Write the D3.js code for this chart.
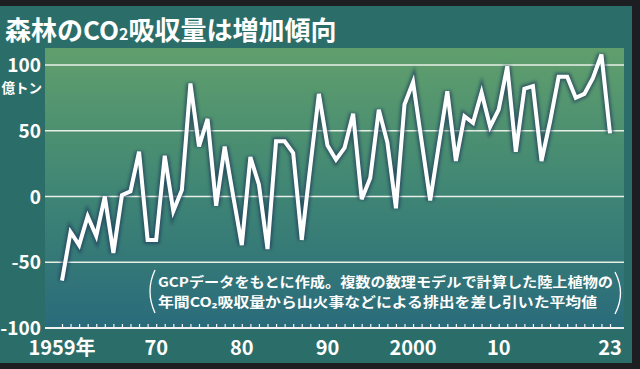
<!DOCTYPE html>
<html>
<head>
<meta charset="utf-8">
<script src="https://cdn.jsdelivr.net/npm/d3@7"></script>
<style>
  html, body { margin: 0; padding: 0; background: #1c1e21; }
  svg { display: block; }
  text { font-family: "Noto Sans CJK JP", "Noto Sans", sans-serif; font-weight: 700; fill: #fff; }
</style>
</head>
<body>
<div id="chart"></div>
<script>
// net land CO2 uptake, 100 million tonnes (億トン) per year
const years = d3.range(1959, 2024);
const uptake = [
    -64, -27, -37, -15, -30, 0, -43, 1, 4, 34,
    -33, -33, 31, -11, 5, 86, 38, 59, -7, 38,
    0, -37, 30, 9, -40, 42, 42, 33, -33, 23,
    78, 39, 28, 37, 63, -2, 14, 66, 41, -9,
    70, 87, 42, -3, 39, 80, 27, 61, 56, 79,
    53, 66, 99, 34, 82, 84, 27, 57, 91, 91,
    75, 78, 90, 108, 48
];
const yTicks = [100, 50, 0, -50, -100];
const xLabels = [1959, 1970, 1980, 1990, 2000, 2010, 2023];
const noteLines = [
    "GCPデータをもとに作成。複数の数理モデルで計算した陸上植物の",
    "年間CO₂吸収量から山火事などによる排出を差し引いた平均値"
];

const width = 640;
const height = 369;

const svg = d3.select('#chart')
    .append('svg')
    .attr('width', width)
    .attr('height', height);

const defs = svg.append('defs');
const grad = defs.append('linearGradient')
    .attr('id', 'plotBg')
    .attr('x1', 0).attr('y1', 0).attr('x2', 0).attr('y2', 1);
grad.append('stop').attr('offset', '0%').attr('stop-color', '#609f6c');
grad.append('stop').attr('offset', '50%').attr('stop-color', '#408674');
grad.append('stop').attr('offset', '100%').attr('stop-color', '#2a6b7b');

const glow = defs.append('filter').attr('id', 'glow')
    .attr('x', '-5%').attr('y', '-5%').attr('width', '110%').attr('height', '110%');
glow.append('feGaussianBlur').attr('stdDeviation', 1.6);

// panel
svg.append('rect')
    .attr('x', 0).attr('y', 6)
    .attr('width', 632).attr('height', 357)
    .attr('fill', '#2b6e69');

const x = d3.scaleLinear()
    .domain([1959, 2023])
    .range([62, 610]);

const y = d3.scaleLinear()
    .domain([-100, 100])
    .range([328, 65]);

const plotLeft = 45, plotRight = 624, plotTop = 48;

svg.append('rect')
    .attr('x', plotLeft).attr('y', plotTop)
    .attr('width', plotRight - plotLeft)
    .attr('height', y(-100) - plotTop)
    .attr('fill', 'url(#plotBg)');

// title
const title = svg.append('text')
    .attr('x', 5).attr('y', 40)
    .attr('font-size', 26);
title.append('tspan').text('森林のCO');
title.append('tspan').attr('font-size', 16).text('2');
title.append('tspan').text('吸収量は増加傾向');

// grid lines
svg.append('g')
    .selectAll('line')
    .data(yTicks.filter(d => d !== -100))
    .join('line')
    .attr('x1', plotLeft).attr('x2', plotRight)
    .attr('y1', d => y(d)).attr('y2', d => y(d))
    .attr('stroke', '#e8efe6')
    .attr('stroke-width', 1.5);

// x axis with a tick for every year
const xAxis = d3.axisTop(x)
    .tickValues(years)
    .tickSize(4)
    .tickFormat('');

const gx = svg.append('g')
    .attr('transform', `translate(0,${y(-100)})`)
    .call(xAxis);
gx.select('.domain').remove();
gx.selectAll('line').attr('stroke', '#f2f2f2').attr('stroke-width', 1.2);

svg.append('line')
    .attr('x1', plotLeft).attr('x2', plotRight)
    .attr('y1', y(-100)).attr('y2', y(-100))
    .attr('stroke', '#f2f2f2')
    .attr('stroke-width', 1.8);

// x labels
svg.append('g')
    .selectAll('text')
    .data(xLabels)
    .join('text')
    .attr('x', d => x(d))
    .attr('y', 355)
    .attr('text-anchor', 'middle')
    .attr('font-size', 20)
    .text(d => d === 1959 ? '1959年' : (d === 2000 ? '2000' : String(d).slice(2)));

// y labels
svg.append('g')
    .selectAll('text')
    .data(yTicks)
    .join('text')
    .attr('x', 41)
    .attr('y', d => y(d) + 7)
    .attr('text-anchor', 'end')
    .attr('font-size', 19)
    .text(d => d);

svg.append('text')
    .attr('x', 42).attr('y', 93)
    .attr('text-anchor', 'end')
    .attr('font-size', 13.5)
    .text('億トン');

// note
const note = svg.append('g');
note.selectAll('text')
    .data(noteLines)
    .join('text')
    .attr('x', 158)
    .attr('y', (d, i) => 287 + i * 19.6)
    .attr('font-size', 13.5)
    .attr('textLength', (d, i) => i === 0 ? 455 : 439)
    .attr('lengthAdjust', 'spacingAndGlyphs')
    .text(d => d);
note.append('path')
    .attr('d', 'M155,270 Q145,291 155,313')
    .attr('fill', 'none').attr('stroke', '#fff').attr('stroke-width', 1.3);
note.append('path')
    .attr('d', 'M615,272 Q626,293 615,314')
    .attr('fill', 'none').attr('stroke', '#fff').attr('stroke-width', 1.3);

// data line
const line = d3.line()
    .x((d, i) => x(years[i]))
    .y(d => y(d));

svg.append('path')
    .datum(uptake)
    .attr('d', line)
    .attr('fill', 'none')
    .attr('stroke', '#1d3b5a')
    .attr('stroke-opacity', 0.65)
    .attr('stroke-width', 8)
    .attr('stroke-linejoin', 'miter')
    .attr('filter', 'url(#glow)');

svg.append('path')
    .datum(uptake)
    .attr('d', line)
    .attr('fill', 'none')
    .attr('stroke', '#ffffff')
    .attr('stroke-width', 4)
    .attr('stroke-linejoin', 'miter');
</script>
</body>
</html>
